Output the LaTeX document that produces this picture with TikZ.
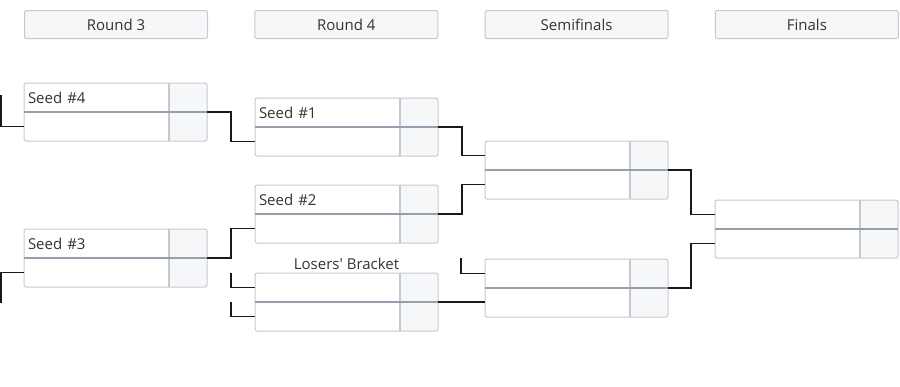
\documentclass[tikz,border=0pt]{standalone}
\usepackage{fontspec}
\setmainfont{Open Sans}
\usetikzlibrary{calc}
\definecolor{bline}{HTML}{C5C9CF}
\definecolor{bdiv}{HTML}{96A0AC}
\definecolor{bcell}{HTML}{F6F7F9}
\definecolor{btext}{HTML}{333333}

\begin{document}
\begin{tikzpicture}[
  x=1pt, y=-1pt,
  font=\fontsize{15}{17}\selectfont,
  head/.style={draw=bline, line width=1pt, fill=bcell, rounded corners=2pt, anchor=north west,
               minimum width=183pt, minimum height=28pt, inner sep=0pt, text=btext},
  slot/.style={fill=white, anchor=north west, outer sep=0pt, text width=175pt, inner xsep=4pt,
               inner ysep=0pt, minimum height=29pt, align=left, text=btext,
               path picture={
                 \fill[bcell] ([xshift=-38pt]path picture bounding box.north east)
                   rectangle (path picture bounding box.south east);
                 \draw[bline, line width=1.2pt] ([xshift=-38pt]path picture bounding box.north east)
                   -- ([xshift=-38pt]path picture bounding box.south east);}},
  frame/.style={draw=bline, line width=1pt, rounded corners=2pt},
  divider/.style={draw=bdiv, line width=1.1pt},
  wire/.style={line width=1.9pt, black!90},
  note/.style={text=btext, inner sep=0pt},
]
\useasboundingbox (0,0) rectangle (900,386);

% ---------------- round headers ----------------
\foreach \t [count=\i from 0] in {Round 3, Round 4, Semifinals, Finals}
  \node[head] (h\i) at (24+230.3*\i, 10) {\t};

% ---------------- the matches ----------------
\foreach \m/\x/\y/\seed in {r3a/24/83/Seed \#4, r3b/24/229/Seed \#3,
                            r4a/255/98/Seed \#1, r4b/255/185/Seed \#2, lb/255/273/{},
                            sfa/485/141/{}, sfb/485/259/{}, fin/715/200/{}} {
  \node[slot] (\m1) at (\x,\y) {\seed};
  \node[slot] (\m2) at (\x,\y+29) {};
  \draw[frame] (\m1.north west) rectangle (\m2.south east);
  \draw[divider] (\m1.south west) -- (\m1.south east);
}
\node[note, above=3pt] (lbl) at (lb1.north) {Losers\textquotesingle{} Bracket};

% ---------------- loose ends ----------------
\coordinate (in4) at (1,95);
\coordinate (in3) at (1,303);
\coordinate (lbin1) at (231,273);
\coordinate (lbin2) at (231,302);
\coordinate (sfbin) at (461,258);

% ---------------- the wires ----------------
\draw[wire] (in4) |- (r3a2.west);
\draw[wire] (in3) |- (r3b2.west);
\draw[wire] (r3a1.south east) -- ++(24,0) |- (r4a2.west);
\draw[wire] (r3b1.south east) -- ++(24,0) |- (r4b2.west);
\draw[wire] (lbin1) |- (lb1.west);
\draw[wire] (lbin2) |- (lb2.west);
\draw[wire] (r4a1.south east) -- ++(24,0) |- (sfa1.west);
\draw[wire] (r4b1.south east) -- ++(24,0) |- (sfa2.west);
\draw[wire] (sfbin) |- (sfb1.west);
\draw[wire] (lb1.south east) -- (lb1.south east -| sfb2.west);
\draw[wire] (sfa1.south east) -- ++(23,0) |- (fin1.west);
\draw[wire] (sfb1.south east) -- ++(23,0) |- (fin2.west);

\end{tikzpicture}
\end{document}
